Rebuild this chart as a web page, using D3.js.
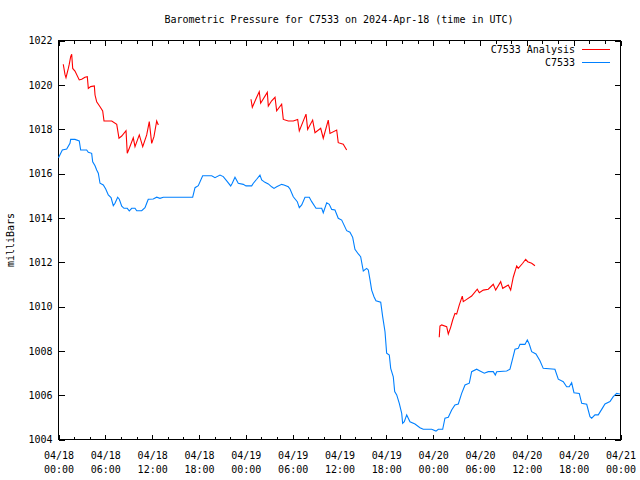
<!DOCTYPE html>
<html><head><meta charset="utf-8">
<script src="https://cdn.jsdelivr.net/npm/d3@7"></script>
<style>body{margin:0;background:#fff}svg{display:block}</style>
</head><body><svg id="c" width="640" height="480"></svg>
<script>
const title = "Barometric Pressure for C7533 on 2024-Apr-18 (time in UTC)";
const yLabel = "milliBars";
const seriesNames = ["C7533 Analysis", "C7533"];
const seriesColors = ["#ff0000", "#0080ff"];
const startDate = Date.UTC(2024, 3, 18, 0, 0);
const yTicks = [1004, 1006, 1008, 1010, 1012, 1014, 1016, 1018, 1020, 1022];
const xMajorHours = [0, 6, 12, 18, 24, 30, 36, 42, 48, 54, 60, 66, 72];
const xMinorHours = [2, 4, 8, 10, 14, 16, 20, 22, 26, 28, 32, 34, 38, 40, 44, 46, 50, 52, 56, 58, 62, 64, 68, 70];

// C7533 observations (hours since 04/18 00:00 UTC, mb)
const obsHours = [0,0.49,1.05,1.47,1.56,2.11,2.66,2.84,3.61,3.82,4.25,4.38,4.68,4.89,5.10,5.32,5.74,6.05,6.38,6.73,7.02,7.24,7.58,7.79,8.10,8.39,8.81,9.07,9.38,9.80,10.02,10.66,11.08,11.30,11.50,12.14,12.58,13.00,13.43,17.19,17.49,17.91,18.47,19.63,20.05,20.69,21.11,21.55,22.06,22.26,22.61,23.03,23.67,24.02,24.75,24.96,25.39,25.81,26.03,26.45,26.88,27.31,27.61,27.95,28.59,28.89,29.44,29.66,30.08,30.59,30.85,31.16,31.58,32.13,32.44,32.99,33.72,33.92,34.36,34.69,35.00,35.42,35.84,36.28,36.48,36.92,37.34,37.69,37.98,38.41,38.71,39.05,39.48,39.69,39.91,40.12,40.42,40.67,41.28,41.53,41.83,42.04,42.38,42.56,42.89,43.07,43.33,43.66,43.97,44.09,44.30,44.61,45.03,45.67,46.31,46.73,47.81,48.36,48.66,49.22,49.51,49.94,50.37,50.79,51.22,51.65,52.08,52.63,52.93,53.57,54.00,54.55,55.06,55.70,55.96,56.14,57.42,57.84,58.19,58.48,58.90,59.12,59.76,60.06,60.31,60.62,61.17,61.68,62.10,63.60,64.03,64.67,65.10,65.43,65.74,66.04,66.72,67.03,67.67,68.09,68.31,68.73,69.15,69.59,70.01,70.65,71.07,71.51,71.93];
const obsValues = [1016.71,1017.06,1017.10,1017.36,1017.54,1017.54,1017.47,1017.06,1017.06,1016.96,1016.91,1016.53,1016.35,1016.16,1016.01,1015.56,1015.48,1015.30,1015.03,1014.91,1014.55,1014.66,1014.93,1014.84,1014.53,1014.43,1014.43,1014.31,1014.43,1014.43,1014.32,1014.32,1014.46,1014.66,1014.84,1014.85,1014.93,1014.88,1014.93,1014.93,1015.36,1015.45,1015.90,1015.90,1015.81,1015.93,1015.86,1015.67,1015.44,1015.56,1015.83,1015.56,1015.51,1015.44,1015.44,1015.56,1015.74,1015.93,1015.71,1015.60,1015.53,1015.40,1015.33,1015.40,1015.51,1015.48,1015.40,1015.30,1014.95,1014.73,1014.46,1014.58,1014.93,1014.93,1014.73,1014.43,1014.43,1014.23,1014.68,1014.61,1014.38,1014.35,1013.98,1013.90,1013.75,1013.42,1013.35,1013.12,1012.58,1012.37,1012.25,1011.60,1011.72,1011.65,1011.20,1010.74,1010.44,1010.26,1010.19,1009.54,1008.86,1007.89,1007.81,1007.21,1006.83,1006.16,1006.01,1005.63,1005.18,1004.73,1004.80,1005.11,1004.80,1004.70,1004.53,1004.46,1004.46,1004.38,1004.46,1004.46,1004.96,1005.00,1005.33,1005.56,1005.60,1006.08,1006.46,1006.54,1007.06,1007.17,1007.09,1006.99,1007.06,1007.06,1006.91,1007.06,1007.09,1007.17,1007.66,1008.07,1008.11,1008.29,1008.29,1008.49,1008.31,1007.96,1007.86,1007.55,1007.21,1007.17,1006.72,1006.61,1006.38,1006.38,1006.56,1006.11,1006.08,1005.63,1005.59,1005.03,1004.96,1005.11,1005.11,1005.36,1005.60,1005.71,1005.93,1006.08,1006.05];

// C7533 Analysis (null = gap between runs)
const anaHours = [0.61,0.83,0.96,1.26,1.38,1.56,1.69,1.82,2.11,2.66,2.97,3.39,3.69,3.82,4.12,4.59,4.68,4.89,5.32,5.66,5.83,6.82,7.46,7.75,8.10,8.65,8.81,9.07,9.58,9.80,10.35,10.79,11.30,11.63,11.94,12.23,12.58,12.79,
  18,
  24.66,24.83,25.39,25.72,25.90,26.75,26.88,27.31,27.74,27.95,28.59,28.80,29.44,30.08,30.64,30.85,31.71,31.92,32.56,32.86,33.59,33.92,34.56,34.78,35.64,35.84,36.48,36.92,
  42,
  48.78,48.87,49.09,49.73,49.94,50.24,50.50,50.79,51.01,51.35,51.73,51.86,52.29,52.93,53.65,53.91,54.42,55.06,55.70,56.01,56.65,56.91,57.62,57.93,58.26,58.70,58.90,59.47,59.85,60.11,60.62,61.04];
const anaValues = [1020.93,1020.47,1020.32,1020.74,1020.93,1021.27,1021.38,1020.74,1020.62,1020.22,1020.25,1020.34,1020.37,1019.84,1019.92,1019.95,1019.54,1019.24,1019.01,1018.82,1018.37,1018.37,1018.22,1017.59,1017.69,1017.93,1016.91,1017.14,1017.61,1017.21,1017.74,1017.21,1017.74,1018.34,1017.36,1017.66,1018.37,1018.19,
  null,
  1019.35,1018.99,1019.44,1019.69,1019.17,1019.66,1019.04,1019.28,1019.44,1018.83,1019.13,1018.44,1018.37,1018.37,1018.44,1017.92,1018.68,1017.99,1018.41,1017.84,1018.04,1017.59,1018.41,1017.81,1017.96,1017.39,1017.32,1017.06,
  null,
  1008.61,1009.12,1009.17,1009.09,1008.76,1009.06,1009.39,1009.69,1009.66,1010.07,1010.47,1010.22,1010.32,1010.47,1010.78,1010.62,1010.74,1010.78,1011.00,1010.74,1011.12,1010.82,1010.97,1010.74,1011.32,1011.83,1011.72,1011.95,1012.13,1012.02,1011.95,1011.84];

const toDate = h => new Date(startDate + h * 3600e3);
const L = 58.5, R = 620.5, T = 40.5, B = 439.5;
const FONT = "'DejaVu Sans Mono', 'Liberation Mono', monospace";

const svg = d3.select("#c").style("font-family", FONT);
const x = d3.scaleUtc().domain([toDate(0), toDate(72)]).range([L, R]);
const y = d3.scaleLinear().domain([1004, 1022]).range([B, T]);

function clean(g) {
  g.select(".domain").remove();
  g.selectAll(".tick line").attr("stroke", "#000").attr("shape-rendering", "crispEdges");
  g.selectAll(".tick text").attr("fill", "#000").style("font-family", FONT).style("font-size", "10px");
}

// bottom major with labels
const fmtD = d3.utcFormat("%m/%d"), fmtT = d3.utcFormat("%H:%M");
const gxb = svg.append("g").attr("transform", `translate(0,${B})`)
  .call(d3.axisBottom(x).tickValues(xMajorHours.map(toDate)).tickSize(-5).tickSizeOuter(0).tickFormat(fmtD));
clean(gxb);
gxb.selectAll(".tick text").each(function(d) {
  const t = d3.select(this);
  t.text(null).attr("y", 0).attr("dy", null);
  t.append("tspan").attr("x", 0).attr("y", 19.5).text(fmtD(d));
  t.append("tspan").attr("x", 0).attr("y", 33.5).text(fmtT(d));
});
const gxbm = svg.append("g").attr("transform", `translate(0,${B})`)
  .call(d3.axisBottom(x).tickValues(xMinorHours.map(toDate)).tickSize(-3).tickSizeOuter(0).tickFormat(""));
clean(gxbm);
// top mirror
const gxt = svg.append("g").attr("transform", `translate(0,${T})`)
  .call(d3.axisTop(x).tickValues(xMajorHours.map(toDate)).tickSize(-5).tickSizeOuter(0).tickFormat(""));
clean(gxt);
const gxtm = svg.append("g").attr("transform", `translate(0,${T})`)
  .call(d3.axisTop(x).tickValues(xMinorHours.map(toDate)).tickSize(-3).tickSizeOuter(0).tickFormat(""));
clean(gxtm);
// left
const gyl = svg.append("g").attr("transform", `translate(${L},0)`)
  .call(d3.axisLeft(y).tickValues(yTicks).tickSize(-6).tickPadding(6).tickSizeOuter(0).tickFormat(d3.format("d")));
clean(gyl);
// right mirror
const gyr = svg.append("g").attr("transform", `translate(${R},0)`)
  .call(d3.axisRight(y).tickValues(yTicks).tickSize(-6).tickSizeOuter(0).tickFormat(""));
clean(gyr);

// border
svg.append("rect").attr("x", L).attr("y", T).attr("width", R - L).attr("height", B - T)
  .attr("fill", "none").attr("stroke", "#000").attr("stroke-width", 1).attr("shape-rendering", "crispEdges");

// lines
const line = d3.line().defined(d => d[1] != null).x(d => x(toDate(d[0]))).y(d => y(d[1]));
const anaData = anaHours.map((h, i) => [h, anaValues[i]]);
const obsData = obsHours.map((h, i) => [h, obsValues[i]]);
svg.append("path").datum(anaData).attr("d", line).attr("fill", "none").attr("stroke", seriesColors[0]).attr("stroke-width", 1.1);
svg.append("path").datum(obsData).attr("d", line).attr("fill", "none").attr("stroke", seriesColors[1]).attr("stroke-width", 1.1);

// title
svg.append("text").attr("x", 339).attr("y", 23).attr("text-anchor", "middle")
  .style("font-size", "10px").text(title);
// y label
svg.append("text").attr("transform", "translate(14,240) rotate(-90)").attr("text-anchor", "middle")
  .style("font-size", "10px").text(yLabel);

// legend
const legY = [49.5, 62.5];
seriesNames.forEach((n, i) => {
  svg.append("text").attr("x", 575).attr("y", legY[i] + 3.5).attr("text-anchor", "end")
    .style("font-size", "10px").text(n);
  svg.append("line").attr("x1", 582).attr("x2", 610).attr("y1", legY[i]).attr("y2", legY[i])
    .attr("stroke", seriesColors[i]).attr("stroke-width", 1).attr("shape-rendering", "crispEdges");
});
</script></body></html>
